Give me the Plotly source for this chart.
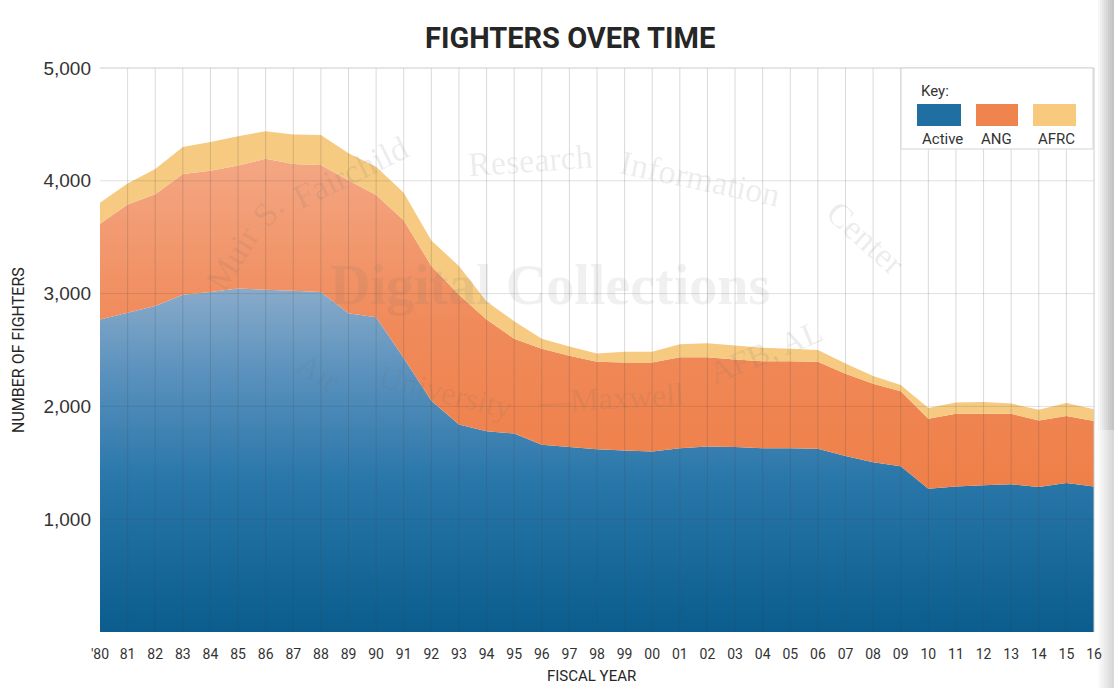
import plotly.graph_objects as go

# Fiscal years and tick labels
years = list(range(1980, 2017))
year_labels = ["'80"] + [str(y)[-2:] for y in years[1:]]

# Fighter counts by component
active = [2770, 2830, 2890, 2990, 3015, 3045, 3035, 3025, 3015, 2825,
          2790, 2430, 2050, 1840, 1780, 1760, 1660, 1640, 1620, 1610,
          1600, 1630, 1645, 1640, 1630, 1630, 1625, 1560, 1505, 1470,
          1270, 1290, 1300, 1310, 1285, 1320, 1290]
ang = [850, 960, 990, 1070, 1075, 1090, 1160, 1125, 1125, 1180,
       1085, 1220, 1195, 1150, 990, 840, 850, 810, 775, 780,
       790, 805, 790, 775, 770, 770, 770, 730, 695, 665,
       620, 645, 635, 625, 590, 595, 580]
afrc = [185, 185, 225, 240, 255, 260, 245, 260, 265, 240,
        250, 245, 225, 255, 160, 155, 90, 80, 75, 95,
        95, 115, 125, 125, 120, 110, 105, 90, 70, 55,
        95, 100, 105, 90, 95, 115, 105]

y_ticks = [1000, 2000, 3000, 4000, 5000]
y_tick_labels = ["1,000", "2,000", "3,000", "4,000", "5,000"]

NARROW = "Roboto, Liberation Sans, sans-serif"
SERIF = "Liberation Serif, DejaVu Serif, serif"

W, H = 1114, 688
L, R, T, B = 100, 20, 68, 56
PW, PH = W - L - R, H - T - B


def px(x):
    return (x - L) / PW


def py(y):
    return 1 - (y - T) / PH


fig = go.Figure()

fig.add_trace(go.Scatter(
    x=years, y=active, name="Active", stackgroup="fleet", mode="none",
    fillgradient=dict(type="vertical", start=0, stop=3050,
                      colorscale=[[0, "#0a5d8d"], [0.45, "#2a77aa"],
                                  [0.75, "#5a91bd"], [1, "#89abca"]]),
    hoverinfo="x+y",
))
fig.add_trace(go.Scatter(
    x=years, y=ang, name="ANG", stackgroup="fleet", mode="none",
    fillgradient=dict(type="vertical", start=1200, stop=4250,
                      colorscale=[[0, "#ef7f48"], [0.5, "#f08a5a"],
                                  [1, "#f4a885"]]),
    hoverinfo="x+y",
))
fig.add_trace(go.Scatter(
    x=years, y=afrc, name="AFRC", stackgroup="fleet", mode="none",
    fillcolor="#f6ca80",
    hoverinfo="x+y",
))

shapes = []
# shaded page edge at the right, darker towards the top, kept under the tick labels
edge = ["#f7f7f7", "#efefef", "#e7e7e7", "#dfdfdf", "#d7d7d7", "#cfcfcf",
        "#c9c9c9", "#c4c4c4"]
for i, col in enumerate(edge):
    shapes.append(dict(type="rect", xref="paper", yref="paper",
                       x0=px(1098 + 2 * i), x1=px(1100 + 2 * i), y0=py(430), y1=py(0),
                       fillcolor=col, line=dict(width=0), layer="below"))
edge_low = ["#fafafa", "#f5f5f5", "#f0f0f0", "#ebebeb", "#e6e6e6", "#e1e1e1",
            "#dcdcdc", "#d8d8d8"]
for i, col in enumerate(edge_low):
    shapes.append(dict(type="rect", xref="paper", yref="paper",
                       x0=px(1098 + 2 * i), x1=px(1100 + 2 * i), y0=py(688), y1=py(430),
                       fillcolor=col, line=dict(width=0), layer="below"))
# grid drawn over the areas so it shows through faintly
for yr in years[1:-1]:
    shapes.append(dict(type="line", xref="x", yref="paper", x0=yr, x1=yr, y0=0, y1=1,
                       line=dict(color="rgba(70,70,70,0.20)", width=1), layer="above"))
for v in y_ticks[:-1]:
    shapes.append(dict(type="line", xref="paper", yref="y", x0=0, x1=1, y0=v, y1=v,
                       line=dict(color="rgba(70,70,70,0.16)", width=1), layer="above"))
# frame on top and right
shapes.append(dict(type="line", xref="paper", yref="paper", x0=0, x1=1, y0=1, y1=1,
                   line=dict(color="#cccccc", width=1), layer="above"))
shapes.append(dict(type="line", xref="paper", yref="paper", x0=1, x1=1, y0=0, y1=1,
                   line=dict(color="#cccccc", width=1), layer="above"))

# key box and swatches
shapes.append(dict(type="rect", xref="paper", yref="paper",
                   x0=px(901), x1=px(1093), y0=py(149), y1=1,
                   fillcolor="white", line=dict(color="#d4d4d4", width=1), layer="above"))
swatches = [(917, 961, "#1f6fa3"), (976, 1018, "#f0844f"), (1033, 1076, "#f7ca7e")]
for x0, x1, col in swatches:
    shapes.append(dict(type="rect", xref="paper", yref="paper",
                       x0=px(x0), x1=px(x1), y0=py(126), y1=py(104),
                       fillcolor=col, line=dict(width=0), layer="above"))

annotations = [
    dict(text="<b>FIGHTERS OVER TIME</b>", xref="paper", yref="paper",
         x=px(570), y=py(38), showarrow=False, xanchor="center", yanchor="middle",
         font=dict(family=NARROW, size=29, color="#262626")),
    dict(text="NUMBER OF FIGHTERS", xref="paper", yref="paper",
         x=px(18), y=0.5, textangle=-90, showarrow=False,
         xanchor="center", yanchor="middle",
         font=dict(family=NARROW, size=16, color="#262626")),
    dict(text="FISCAL YEAR", xref="paper", yref="paper",
         x=px(591), y=py(676), showarrow=False, xanchor="center", yanchor="middle",
         font=dict(family=NARROW, size=15, color="#262626")),
    dict(text="Key:", xref="paper", yref="paper", x=px(919), y=py(91),
         showarrow=False, xanchor="left", yanchor="middle",
         font=dict(family=NARROW, size=15, color="#333333")),
]
for label, cx in [("Active", 942), ("ANG", 996), ("AFRC", 1056)]:
    annotations.append(dict(text=label, xref="paper", yref="paper", x=px(cx), y=py(139),
                            showarrow=False, xanchor="center", yanchor="middle",
                            font=dict(family=NARROW, size=15, color="#333333")))

# faint archive watermark
wm = "rgba(110,110,110,0.13)"
for text, x, y, ang_deg, size in [
    ("Muir", 232, 258, -58, 34), ("S.", 268, 212, -48, 34), ("Fairchild", 350, 172, -26, 34),
    ("Research", 530, 160, -4, 34), ("Information", 700, 178, 12, 34), ("Center", 865, 238, 42, 34),
    ("Air", 318, 372, 32, 32), ("University", 445, 392, 14, 32), ("—Maxwell", 610, 398, -3, 32),
    ("AFB, AL", 765, 352, -22, 32),
]:
    annotations.append(dict(text=text, xref="paper", yref="paper", x=px(x), y=py(y),
                            textangle=ang_deg, showarrow=False, xanchor="center", yanchor="middle",
                            font=dict(family=SERIF, size=size, color=wm)))
annotations.append(dict(text="<b>Digital Collections</b>", xref="paper", yref="paper",
                        x=px(550), y=py(285), showarrow=False, xanchor="center", yanchor="middle",
                        font=dict(family=SERIF, size=56, color="rgba(110,110,110,0.10)")))

fig.update_layout(
    width=W, height=H,
    margin=dict(l=L, r=R, t=T, b=B),
    paper_bgcolor="white", plot_bgcolor="white",
    showlegend=False,
    shapes=shapes,
    annotations=annotations,
    xaxis=dict(range=[1980, 2016], tickmode="array", tickvals=years, ticktext=year_labels,
               showgrid=False, zeroline=False, showline=False, ticks="",
               ticklabelstandoff=12,
               tickfont=dict(family=NARROW, size=14, color="#333333"), fixedrange=True),
    yaxis=dict(range=[0, 5000], tickmode="array", tickvals=y_ticks, ticktext=y_tick_labels,
               showgrid=False, zeroline=False, showline=False, ticks="",
               ticklabelstandoff=8,
               tickfont=dict(family="Liberation Sans, Arial, sans-serif", size=19, color="#333333"),
               fixedrange=True),
)

fig.write_html("out.html")
